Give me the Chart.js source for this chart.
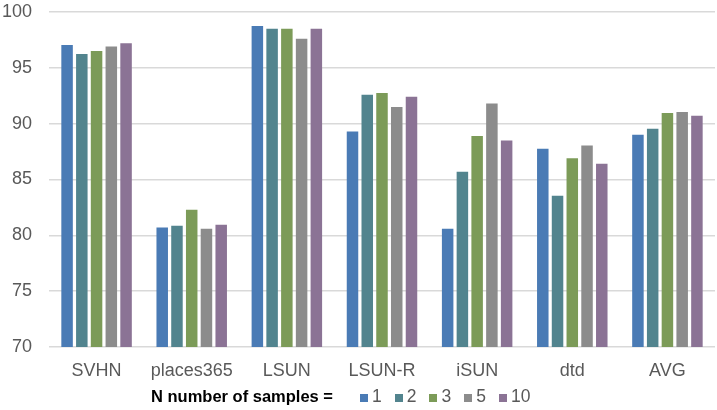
<!DOCTYPE html>
<html>
<head>
<meta charset="utf-8">
<script src="https://cdn.jsdelivr.net/npm/chart.js@4.4.1/dist/chart.umd.min.js"></script>
<style>
  body { margin: 0; background: #fff; }
  #wrap { position: relative; width: 717px; height: 410px; }
  #legend {
    position: absolute; left: 151px; top: 386px;
    display: flex; align-items: baseline;
    font-family: "Liberation Sans", Arial, sans-serif; font-size: 17.5px; color: #595959;
    white-space: nowrap;
  }
  #legend .title { color: #000; font-weight: bold; font-size: 16.5px; margin-right: 27px; }
  #legend .box { display: inline-block; width: 8px; height: 8px; margin-right: 4px; }
  #legend .item { margin-right: 13px; }
</style>
</head>
<body>
<div id="wrap">
  <canvas id="scoreChart" width="717" height="410"></canvas>
  <div id="legend"></div>
</div>
<script>
// datasets (x axis) and scores per N
const categories = ['SVHN', 'places365', 'LSUN', 'LSUN-R', 'iSUN', 'dtd', 'AVG'];
const sampleLabels = ['1', '2', '3', '5', '10'];
const n1 = [97.05, 80.7, 98.75, 89.3, 80.6, 87.75, 89.0];
const n2 = [96.25, 80.85, 98.5, 92.6, 85.7, 83.55, 89.55];
const n3 = [96.5, 82.3, 98.5, 92.75, 88.9, 86.9, 90.95];
const n5 = [96.9, 80.6, 97.6, 91.5, 91.8, 88.05, 91.05];
const n10 = [97.2, 80.95, 98.5, 92.4, 88.5, 86.4, 90.7];
const yMin = 70, yMax = 100, yStep = 5;

const seriesValues = [n1, n2, n3, n5, n10];
const colors = ['#4a7bb5', '#52848e', '#7c9b58', '#8c8c8c', '#8b7395'];
const font = 'Liberation Sans, Arial, sans-serif';

const scoreCtx = document.getElementById('scoreChart').getContext('2d');
const scoreChart = new Chart(scoreCtx, {
    type: 'bar',
    data: {
        labels: categories,
        datasets: sampleLabels.map((lbl, i) => ({
            label: lbl,
            data: seriesValues[i],
            backgroundColor: colors[i],
            categoryPercentage: 0.775,
            barPercentage: 0.78,
        }))
    },
    options: {
        responsive: false,
        animation: false,
        layout: { padding: { top: 12, right: 2, left: 0, bottom: 0 } },
        plugins: {
            legend: { display: false },
            tooltip: { enabled: false }
        },
        scales: {
            x: {
                grid: { display: false },
                border: { display: false },
                ticks: { color: '#595959', font: { family: font, size: 18 }, padding: 5 },
                afterFit: (scale) => { scale.height = 63; }
            },
            y: {
                min: yMin,
                max: yMax,
                grid: { color: '#d9d9d9', lineWidth: 1.5, drawTicks: false },
                border: { display: false },
                ticks: { stepSize: yStep, color: '#595959', font: { family: font, size: 18 }, padding: 17 },
                afterFit: (scale) => { scale.width = 49; scale.paddingTop = 0; scale.paddingBottom = 0; }
            }
        }
    }
});

// legend under the plot
const legendEl = document.getElementById('legend');
legendEl.innerHTML = '<span class="title">N number of samples =</span>' +
    sampleLabels.map((lbl, i) =>
        `<span class="box" style="background:${colors[i]}"></span><span class="item">${lbl}</span>`
    ).join('');
</script>
</body>
</html>
